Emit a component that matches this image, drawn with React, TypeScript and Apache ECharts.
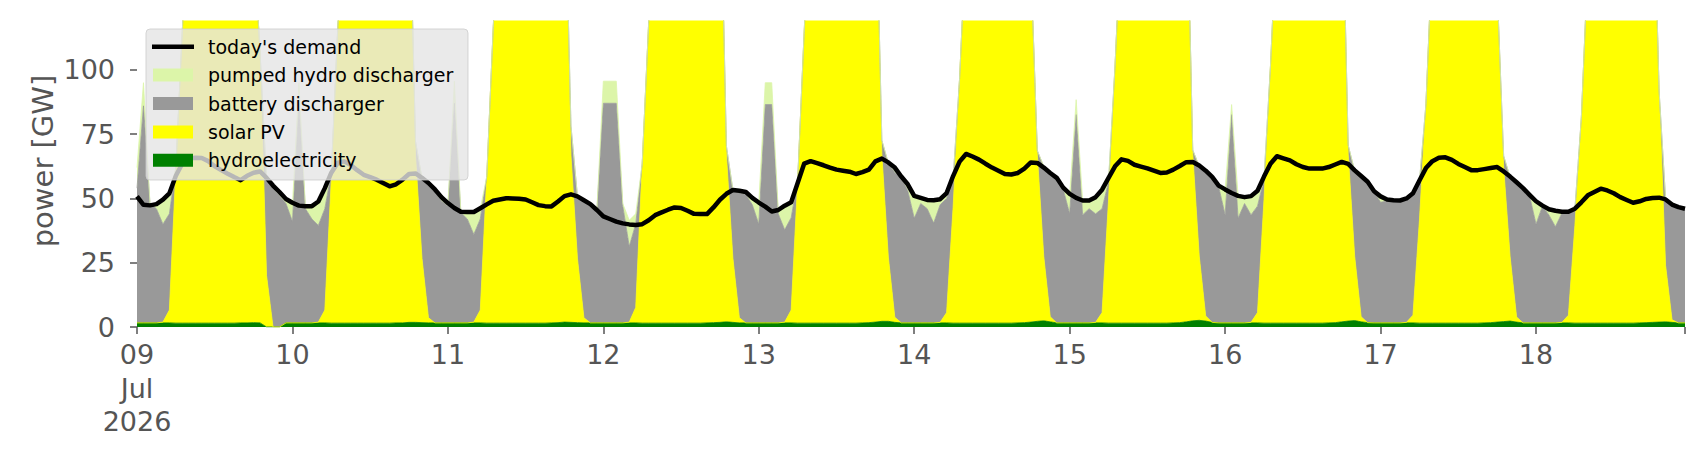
import React, { useEffect, useRef } from 'react';
import * as echarts from 'echarts';

// x tick labels (one per day, hourly data starting 09 Jul 2026 00:00)
const dayLabels = ['09\nJul\n2026', '10', '11', '12', '13', '14', '15', '16', '17', '18'];
const yTicks = [0, 25, 50, 75, 100];
const yMax = 119;

const seriesNames = {
  demand: "today's demand",
  pumped: 'pumped hydro discharger',
  battery: 'battery discharger',
  solar: 'solar PV',
  hydro: 'hydroelectricity',
};

const colors = {
  demand: '#000000',
  pumped: '#dcf5a9',
  battery: '#999999',
  solar: '#ffff00',
  hydro: '#008000',
};

// hourly values, GW
const demand = [
  50.8, 47.5, 47.3, 47.8, 49.5, 52, 58.8, 63.6, 65.5, 65.8, 65.7, 64.5, 62.5, 61, 59.6, 58.3, 57.1, 58.8, 60, 60.5, 58, 55, 52.5, 49.8,
  48.3, 47.2, 47, 47, 48.8, 54, 60, 63.9, 64.4, 63, 61, 59.2, 58.3, 57.3, 56, 54.7, 55.5, 57.3, 59.5, 59.7, 58, 56, 53.5, 50.5,
  48.2, 46.3, 44.8, 44.7, 44.7, 46.2, 47.7, 49.1, 49.6, 50.1, 50, 49.9, 49.6, 48.5, 47.4, 47, 46.9, 48.8, 50.9, 51.6, 50.8, 49.3, 47.8, 45.5,
  43, 42, 41, 40.3, 39.9, 39.7, 40, 41.5, 43.5, 44.6, 45.6, 46.5, 46.3, 45.2, 44, 43.9, 43.9, 46.5, 49.5, 51.8, 53.3, 53, 52.5, 50.2,
  48.4, 46.8, 44.9, 45.5, 47.2, 48.5, 56, 63.5, 64.5, 63.7, 62.9, 62, 61.2, 60.8, 60.4, 59.5, 60.2, 61.2, 64.4, 65.5, 64, 62, 58.5, 55.5,
  51, 50.2, 49.4, 49.3, 49.7, 52.1, 58.7, 64.3, 67.3, 66.3, 65.1, 63.5, 62, 60.8, 59.5, 59.3, 59.9, 61.6, 64, 63.8, 62, 59.9, 58, 54.2,
  51.8, 50.2, 49.2, 49.2, 50.5, 53.4, 58, 62.5, 65.2, 64.6, 63.1, 62.4, 61.7, 60.8, 59.9, 60.1, 61.2, 62.6, 64.1, 64.2, 62.8, 60.8, 58.4, 55,
  53.5, 52.1, 51, 50.5, 50.9, 53, 58.5, 63.5, 66.4, 65.6, 64.8, 63.3, 62.2, 61.6, 61.6, 61.6, 62.2, 63.2, 64.2, 63.4, 60.9, 58.7, 56.5, 52.8,
  50.8, 49.6, 49.3, 49.2, 50, 52, 57, 61.8, 64.5, 65.8, 66, 65, 63.4, 62.2, 61, 61, 61.4, 61.8, 62.2, 60.5, 58.5, 56.3, 54, 51.4,
  48.9, 47.2, 45.8, 45.2, 44.8, 44.8, 46, 48.5, 51.2, 52.5, 53.8, 53.1, 52, 50.5, 49.4, 48.3, 48.9, 49.8, 50.2, 50.3, 49.6, 47.6, 46.6, 46,
];

const hydro = [
  1.6, 1.6, 1.6, 1.6, 1.6, 1.6, 1.5, 1.5, 1.5, 1.5, 1.5, 1.5, 1.5, 1.5, 1.5, 1.5, 1.6, 1.6, 1.7, 1.6, 0, 0, 0, 1.6,
  1.6, 1.6, 1.6, 1.6, 1.6, 1.6, 1.5, 1.5, 1.5, 1.5, 1.5, 1.5, 1.5, 1.5, 1.5, 1.5, 1.6, 1.6, 1.8, 1.8, 1.7, 1.6, 1.6, 1.6,
  1.6, 1.6, 1.6, 1.6, 1.6, 1.6, 1.5, 1.5, 1.5, 1.5, 1.5, 1.5, 1.5, 1.5, 1.5, 1.5, 1.6, 1.7, 1.9, 1.8, 1.7, 1.6, 1.6, 1.6,
  1.6, 1.6, 1.6, 1.6, 1.6, 1.6, 1.5, 1.5, 1.5, 1.5, 1.5, 1.5, 1.5, 1.5, 1.5, 1.5, 1.6, 1.7, 1.8, 2.0, 1.8, 1.6, 1.6, 1.6,
  1.6, 1.6, 1.6, 1.6, 1.6, 1.6, 1.5, 1.5, 1.5, 1.5, 1.5, 1.5, 1.5, 1.5, 1.5, 1.5, 1.6, 1.7, 1.9, 2.2, 2.2, 1.8, 1.6, 1.6,
  1.6, 1.6, 1.6, 1.6, 1.6, 1.6, 1.5, 1.5, 1.5, 1.5, 1.5, 1.5, 1.5, 1.5, 1.5, 1.5, 1.6, 1.7, 1.9, 2.2, 2.4, 2.0, 1.6, 1.6,
  1.6, 1.6, 1.6, 1.6, 1.6, 1.6, 1.5, 1.5, 1.5, 1.5, 1.5, 1.5, 1.5, 1.5, 1.5, 1.5, 1.6, 1.7, 2.0, 2.4, 2.6, 2.3, 1.8, 1.6,
  1.6, 1.6, 1.6, 1.6, 1.6, 1.6, 1.5, 1.5, 1.5, 1.5, 1.5, 1.5, 1.5, 1.5, 1.5, 1.5, 1.6, 1.7, 2.0, 2.3, 2.5, 2.0, 1.7, 1.6,
  1.6, 1.6, 1.6, 1.6, 1.6, 1.6, 1.5, 1.5, 1.5, 1.5, 1.5, 1.5, 1.5, 1.5, 1.5, 1.5, 1.6, 1.7, 1.9, 2.1, 2.3, 1.9, 1.6, 1.6,
  1.6, 1.6, 1.6, 1.6, 1.6, 1.6, 1.5, 1.5, 1.5, 1.5, 1.5, 1.5, 1.5, 1.5, 1.5, 1.5, 1.6, 1.7, 1.8, 1.9, 2.0, 1.8, 1.6, 1.6,
];

const solar = [
  0, 0, 0, 0, 0.3, 5, 60, 114, 165, 205, 235, 250, 255, 250, 235, 215, 200, 190, 150, 105, 20, 0, 0, 0,
  0, 0, 0, 0, 0.3, 5, 56, 115, 165, 205, 235, 250, 255, 250, 235, 215, 200, 190, 175, 65, 25, 2, 0, 0,
  0, 0, 0, 0, 0.3, 5, 57, 115, 165, 205, 235, 250, 255, 250, 235, 215, 200, 190, 180, 65, 25, 2, 0, 0,
  0, 0, 0, 0, 0.3, 6, 62, 117, 165, 205, 235, 250, 255, 250, 235, 215, 200, 195, 185, 65, 25, 2, 0, 0,
  0, 0, 0, 0, 0.3, 5, 55, 113, 165, 205, 235, 250, 255, 250, 235, 215, 200, 190, 180, 65, 25, 2, 0, 0,
  0, 0, 0, 0, 0.2, 4, 45, 95, 150, 200, 230, 245, 250, 245, 230, 210, 190, 170, 140, 65, 25, 2, 0, 0,
  0, 0, 0, 0, 0.2, 4, 48, 100, 155, 205, 235, 250, 255, 250, 235, 215, 200, 190, 180, 65, 25, 2, 0, 0,
  0, 0, 0, 0, 0.2, 4, 48, 100, 155, 205, 235, 250, 255, 250, 235, 215, 200, 190, 180, 65, 25, 2, 0, 0,
  0, 0, 0, 0, 0.2, 3, 40, 85, 145, 200, 230, 245, 250, 245, 230, 210, 185, 160, 130, 60, 25, 2, 0, 0,
  0, 0, 0, 0, 0.2, 3, 38, 80, 140, 195, 230, 245, 250, 245, 235, 215, 200, 195, 185, 90, 22, 1, 0, 0,
];

const battery = [
  52.4, 84.4, 46.4, 44.4, 38.1, 37.4, 0.5, 0, 0, 0, 0, 0, 0, 0, 0, 0, 0, 0, 0, 0, 37, 54, 51, 46.4,
  39.4, 85.4, 44.4, 40.4, 37.6, 39.4, 2.4, 0, 0, 0, 0, 0, 0, 0, 0, 0, 0, 0, 0, 5.4, 30.9, 51.4, 50.9, 47.4,
  45.4, 85.4, 42.9, 40.4, 34.1, 35.4, 0, 0, 0, 0, 0, 0, 0, 0, 0, 0, 0, 0, 0, 11.4, 24.2, 45.4, 45.9, 43.4,
  85.4, 85.4, 85.4, 45.4, 29.4, 32.4, 0, 0, 0, 0, 0, 0, 0, 0, 0, 0, 0, 0, 0, 3.4, 26.4, 48.5, 49.9, 45.9,
  38.4, 84.9, 84.9, 42.4, 35.9, 35.9, 0.4, 0, 0, 0, 0, 0, 0, 0, 0, 0, 0, 0, 0, 5.4, 36.4, 56.3, 56.4, 51.4,
  40.7, 46.4, 44.4, 38.8, 45.7, 44.4, 10.9, 0, 0, 0, 0, 0, 0, 0, 0, 0, 0, 0, 0, 1.4, 34.9, 55.1, 55.9, 51.9,
  42.4, 81, 42, 44.4, 42.2, 40.4, 6.9, 0, 0, 0, 0, 0, 0, 0, 0, 0, 0, 0, 0, 1.4, 34.9, 56.2, 56.4, 52.9,
  42, 81, 40.7, 46.4, 41.8, 41.4, 7.9, 0, 0, 0, 0, 0, 0, 0, 0, 0, 0, 0, 0, 3.4, 33, 54.7, 54.4, 50.9,
  46.9, 47.4, 47.4, 47.2, 47.7, 46.9, 14.9, 0, 0, 0, 0, 0, 0, 0, 0, 0, 0, 0, 0, 4.4, 31, 52.4, 52.2, 49.4,
  38.4, 45.4, 41.9, 37.4, 42.5, 40.1, 6.4, 0, 0, 0, 0, 0, 0, 0, 0, 0, 0, 0, 0, 0, 26, 45.4, 45.2, 44.4,
];

const pumped = [
  8, 9, 0, 2, 8.5, 7, 0, 0, 0, 0, 0, 0, 0, 0, 0, 0, 0, 0, 0, 0, 0.5, 1, 1.5, 1.8,
  6.5, 8, 1, 4.8, 9, 7, 0, 0, 0, 0, 0, 0, 0, 0, 0, 0, 0, 0, 0, 0, 0.3, 0.5, 0.5, 2.5,
  0.5, 8.6, 0.3, 2.5, 8.7, 4, 0, 0, 0, 0, 0, 0, 0, 0, 0, 0, 0, 0, 0, 0, 0, 0.3, 0.3, 0.5,
  8.6, 8.6, 8.6, 1, 10.2, 4, 0, 0, 0, 0, 0, 0, 0, 0, 0, 0, 0, 0, 0, 0, 0.2, 0.3, 0.8, 2.3,
  8.4, 8.5, 8.5, 1.5, 9.4, 6, 0, 0, 0, 0, 0, 0, 0, 0, 0, 0, 0, 0, 0, 0, 0.3, 1, 0.5, 2,
  8.2, 1.8, 3.2, 8.6, 2, 1.5, 0, 0, 0, 0, 0, 0, 0, 0, 0, 0, 0, 0, 0, 0, 0.2, 0.3, 0.5, 0.5,
  7.5, 5.8, 5.4, 3, 6.2, 6.5, 1, 0, 0, 0, 0, 0, 0, 0, 0, 0, 0, 0, 0, 0, 0.1, 0.2, 0.3, 0.5,
  9.7, 3.9, 8.7, 2.3, 7.1, 5.5, 0.5, 0, 0, 0, 0, 0, 0, 0, 0, 0, 0, 0, 0, 0, 0.3, 0.3, 0.4, 0.3,
  2.3, 0.6, 0.3, 0.4, 0.5, 0.5, 0.5, 0, 0, 0, 0, 0, 0, 0, 0, 0, 0, 0, 0, 0, 0.2, 0.3, 0.2, 0.4,
  9, 0.3, 2.5, 6.2, 0.5, 0.1, 0, 0, 0, 0, 0, 0, 0, 0, 0, 0, 0, 0, 0, 0, 0, 0.2, 0.2, 0.2,
];

const FONT = '"DejaVu Sans", "Liberation Sans", sans-serif';

export default function App() {
  const ref = useRef<HTMLDivElement>(null);

  useEffect(() => {
    if (!ref.current) return;
    const chart = echarts.init(ref.current, null, { renderer: 'svg' });
    const lastHour = demand.length - 1;
    const hourCategories = demand.map((_, i) => String(i));

    const area = (name: string, data: number[], color: string) => ({
      name,
      type: 'line',
      stack: 'generation',
      data,
      symbol: 'none',
      showSymbol: false,
      clip: true,
      lineStyle: { width: 0.8, color },
      itemStyle: { color },
      areaStyle: { color, opacity: 1 },
      emphasis: { disabled: true },
      z: 2,
    });

    // legend drawn as graphic group (matplotlib-like box)
    const legendRows = [
      { key: 'demand', kind: 'line' },
      { key: 'pumped', kind: 'patch' },
      { key: 'battery', kind: 'patch' },
      { key: 'solar', kind: 'patch' },
      { key: 'hydro', kind: 'patch' },
    ];
    const rowH = 28.4;
    const firstRow = 17.7;
    const legendChildren: any[] = [
      {
        type: 'rect',
        shape: { x: 0, y: 0, width: 322, height: 151, r: 4 },
        style: { fill: 'rgba(229,229,229,0.8)', stroke: 'rgba(204,204,204,0.8)', lineWidth: 1 },
        z: 100,
      },
    ];
    legendRows.forEach((row, i) => {
      const cy = firstRow + i * rowH;
      const color = (colors as any)[row.key];
      if (row.kind === 'line') {
        legendChildren.push({
          type: 'line',
          shape: { x1: 6, y1: cy, x2: 48, y2: cy },
          style: { stroke: color, lineWidth: 4.5 },
          z: 101,
        });
      } else {
        legendChildren.push({
          type: 'rect',
          shape: { x: 7, y: cy - 6.5, width: 40, height: 13 },
          style: { fill: color },
          z: 101,
        });
      }
      legendChildren.push({
        type: 'text',
        x: 62,
        y: cy,
        style: {
          text: (seriesNames as any)[row.key],
          fontSize: 19,
          fontFamily: FONT,
          fill: '#000',
          align: 'left',
          verticalAlign: 'middle',
          textAlign: 'left',
          textVerticalAlign: 'middle',
        },
        z: 101,
      });
    });

    chart.setOption({
      animation: false,
      backgroundColor: '#ffffff',
      grid: { left: 137, right: 21, top: 21, bottom: 133, containLabel: false },
      xAxis: {
        type: 'category',
        data: hourCategories,
        boundaryGap: false,
        axisLine: { show: false },
        splitLine: { show: false },
        axisTick: {
          show: true,
          length: 7,
          lineStyle: { color: '#555555', width: 1.5 },
          interval: (i: number) => i % 24 === 0 || i === lastHour,
        },
        axisLabel: {
          interval: (i: number) => i % 24 === 0,
          formatter: (_v: string, i: number) => dayLabels[Math.round(i / 24)] ?? '',
          color: '#555555',
          fontSize: 27,
          lineHeight: 33.5,
          margin: 11,
          fontFamily: FONT,
        },
      },
      yAxis: {
        type: 'value',
        min: 0,
        max: yMax,
        axisLine: { show: false },
        splitLine: { show: false },
        axisTick: {
          show: true,
          length: 7,
          lineStyle: { color: '#555555', width: 1.5 },
          customValues: yTicks,
        },
        axisLabel: {
          customValues: yTicks,
          color: '#555555',
          fontSize: 27,
          margin: 22,
          fontFamily: FONT,
        },
      },
      graphic: [
        {
          type: 'text',
          x: 43,
          y: 161,
          rotation: Math.PI / 2,
          style: {
            text: 'power [GW]',
            fontSize: 29,
            fontFamily: FONT,
            fill: '#555555',
            align: 'center',
            verticalAlign: 'middle',
            textAlign: 'center',
            textVerticalAlign: 'middle',
          },
          z: 100,
        },
        {
          type: 'group',
          x: 146,
          y: 29,
          z: 100,
          children: legendChildren,
        },
      ],
      series: [
        area(seriesNames.hydro, hydro, colors.hydro),
        area(seriesNames.solar, solar, colors.solar),
        area(seriesNames.battery, battery, colors.battery),
        area(seriesNames.pumped, pumped, colors.pumped),
        {
          name: seriesNames.demand,
          type: 'line',
          data: demand,
          symbol: 'none',
          showSymbol: false,
          lineStyle: { color: colors.demand, width: 4.5, join: 'round', cap: 'butt' },
          itemStyle: { color: colors.demand },
          emphasis: { disabled: true },
          z: 5,
        },
      ],
    });

    return () => chart.dispose();
  }, []);

  return (
    <div
      ref={ref}
      style={{ position: 'fixed', left: 0, top: 0, width: 1706, height: 460, background: '#fff' }}
    />
  );
}
